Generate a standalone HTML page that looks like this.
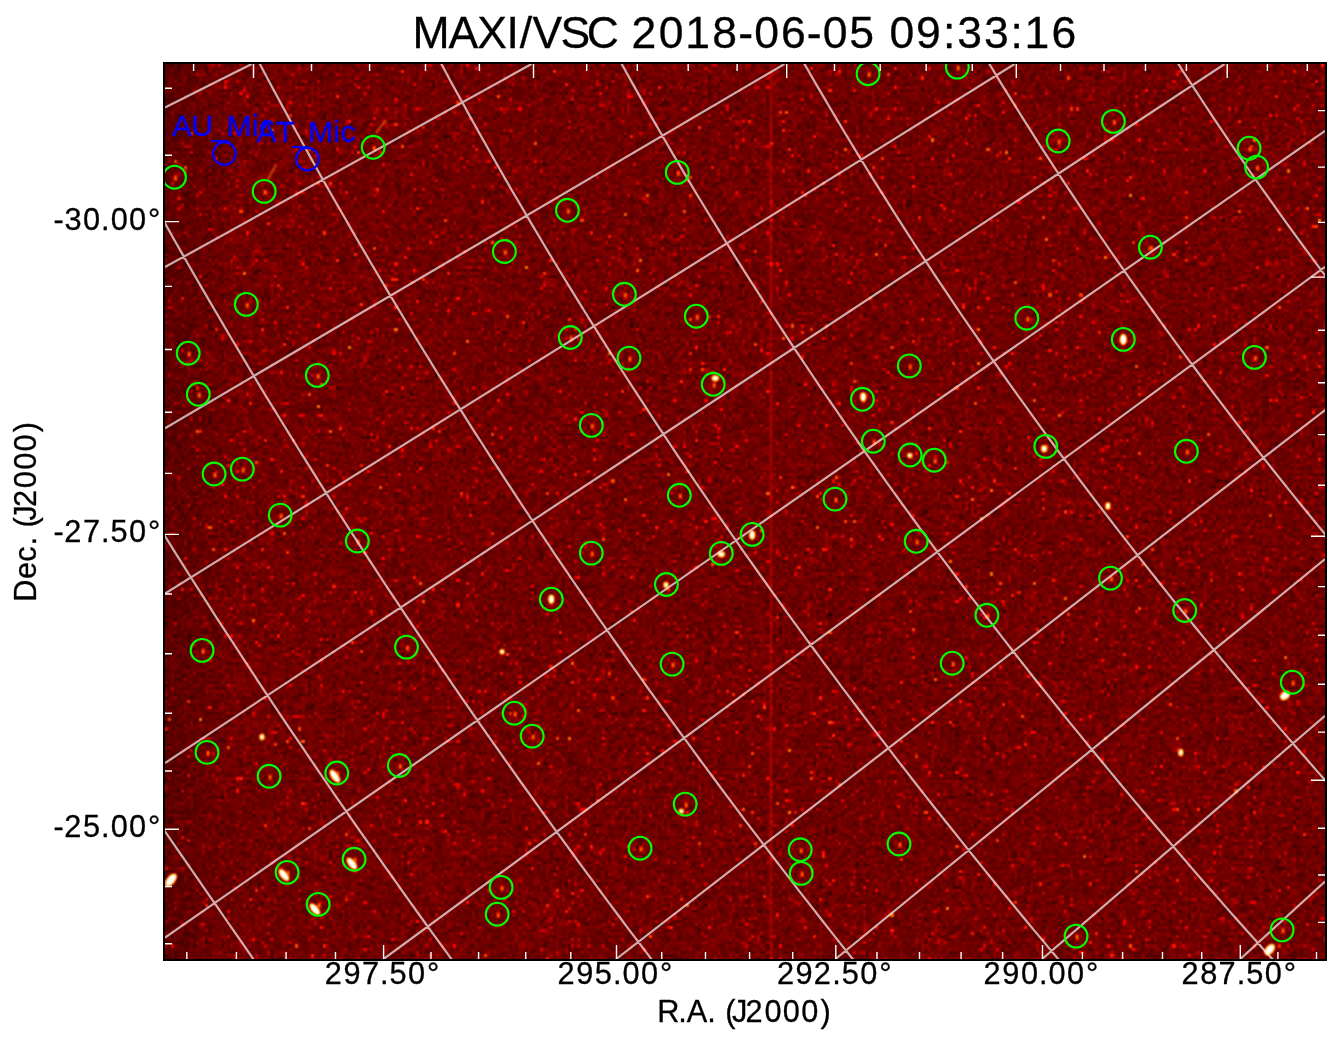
<!DOCTYPE html>
<html><head><meta charset="utf-8">
<style>
html,body{margin:0;padding:0;background:#fff;}
body{width:1341px;height:1043px;position:relative;overflow:hidden;font-family:"Liberation Sans",sans-serif;}
#plot{position:absolute;left:165px;top:64px;width:1160px;height:895px;background:#750000;}
#cv{position:absolute;left:0;top:0;width:1160px;height:895px;}
svg{position:absolute;left:0;top:0;}
</style></head><body>
<div id="plot"><canvas id="cv" width="1160" height="895"></canvas></div>
<svg width="1341" height="1043" viewBox="0 0 1341 1043">
<defs><clipPath id="cp"><rect x="165" y="64" width="1160" height="895"/></clipPath></defs>
<g clip-path="url(#cp)">
<path d="M165.0 107.4L251.7 64.0 M165.0 267.1L531.5 64.0 M165.0 428.2L784.5 64.0 M165.0 593.5L1014.6 64.0 M165.0 763.0L1224.6 64.0 M165.0 937.5L1325.0 130.9 M383.6 959.0L1325.0 266.8 M616.2 959.0L1325.0 410.0 M835.5 959.0L1325.0 559.2 M1042.1 959.0L1325.0 715.9 M1240.3 959.0L1325.0 881.5 M-386.9 34.0L-378.6 46.1L-370.2 58.2L-361.8 70.3L-353.5 82.4L-345.1 94.4L-336.7 106.5L-328.4 118.6L-320.0 130.7L-311.6 142.8L-303.3 154.9L-294.9 167.0L-286.5 179.1L-278.2 191.2L-269.8 203.2L-261.4 215.3L-253.1 227.4L-244.7 239.5L-236.3 251.6L-228.0 263.7L-219.6 275.8L-211.2 287.9L-202.9 299.9L-194.5 312.0L-186.1 324.1L-177.8 336.2L-169.4 348.3L-161.0 360.4L-152.7 372.5L-144.3 384.6L-135.9 396.7L-127.6 408.7L-119.2 420.8L-110.8 432.9L-102.5 445.0L-94.1 457.1L-85.7 469.2L-77.4 481.3L-69.0 493.4L-60.6 505.5L-52.3 517.5L-43.9 529.6L-35.5 541.7L-27.2 553.8L-18.8 565.9L-10.4 578.0L-2.1 590.1L6.3 602.2L14.7 614.3L23.0 626.3L31.4 638.4L39.8 650.5L48.1 662.6L56.5 674.7L64.9 686.8L73.2 698.9L81.6 711.0L90.0 723.1L98.3 735.1L106.7 747.2L115.1 759.3L123.4 771.4L131.8 783.5L140.2 795.6L148.5 807.7L156.9 819.8L165.3 831.8L173.6 843.9L182.0 856.0L190.4 868.1L198.7 880.2L207.1 892.3L215.5 904.4L223.8 916.5L232.2 928.6L240.6 940.6L248.9 952.7L257.3 964.8L265.7 976.9L274.0 989.0 M-116.7 34.0L-110.6 46.1L-104.6 58.2L-98.4 70.3L-92.3 82.4L-86.1 94.4L-79.9 106.5L-73.7 118.6L-67.4 130.7L-61.0 142.8L-54.7 154.9L-48.3 167.0L-41.8 179.1L-35.4 191.2L-28.9 203.2L-22.3 215.3L-15.7 227.4L-9.1 239.5L-2.4 251.6L4.3 263.7L11.0 275.8L17.8 287.9L24.6 299.9L31.4 312.0L38.3 324.1L45.2 336.2L52.2 348.3L59.1 360.4L66.2 372.5L73.2 384.6L80.3 396.7L87.5 408.7L94.6 420.8L101.9 432.9L109.1 445.0L116.4 457.1L123.7 469.2L131.1 481.3L138.5 493.4L145.9 505.5L153.4 517.5L160.9 529.6L168.4 541.7L176.0 553.8L183.6 565.9L191.3 578.0L199.0 590.1L206.7 602.2L214.4 614.3L222.2 626.3L230.1 638.4L238.0 650.5L245.9 662.6L253.8 674.7L261.8 686.8L269.8 698.9L277.9 711.0L286.0 723.1L294.1 735.1L302.3 747.2L310.5 759.3L318.7 771.4L327.0 783.5L335.3 795.6L343.7 807.7L352.1 819.8L360.5 831.8L369.0 843.9L377.5 856.0L386.0 868.1L394.6 880.2L403.2 892.3L411.8 904.4L420.5 916.5L429.2 928.6L438.0 940.6L446.8 952.7L455.6 964.8L464.5 976.9L473.4 989.0 M63.7 34.0L69.9 46.1L76.1 58.2L82.4 70.3L88.6 82.4L95.0 94.4L101.4 106.5L107.8 118.6L114.2 130.7L120.7 142.8L127.3 154.9L133.8 167.0L140.5 179.1L147.1 191.2L153.8 203.2L160.6 215.3L167.3 227.4L174.1 239.5L181.0 251.6L187.9 263.7L194.8 275.8L201.8 287.9L208.8 299.9L215.9 312.0L223.0 324.1L230.1 336.2L237.3 348.3L244.5 360.4L251.7 372.5L259.0 384.6L266.3 396.7L273.7 408.7L281.1 420.8L288.6 432.9L296.1 445.0L303.6 457.1L311.2 469.2L318.8 481.3L326.4 493.4L334.1 505.5L341.8 517.5L349.6 529.6L357.4 541.7L365.3 553.8L373.2 565.9L381.1 578.0L389.0 590.1L397.1 602.2L405.1 614.3L413.2 626.3L421.3 638.4L429.5 650.5L437.7 662.6L445.9 674.7L454.2 686.8L462.5 698.9L470.9 711.0L479.3 723.1L487.7 735.1L496.2 747.2L504.8 759.3L513.3 771.4L521.9 783.5L530.6 795.6L539.2 807.7L548.0 819.8L556.7 831.8L565.5 843.9L574.4 856.0L583.2 868.1L592.2 880.2L601.1 892.3L610.1 904.4L619.2 916.5L628.2 928.6L637.4 940.6L646.5 952.7L655.7 964.8L665.0 976.9L674.2 989.0 M244.1 34.0L250.4 46.1L256.8 58.2L263.2 70.3L269.6 82.4L276.1 94.4L282.6 106.5L289.2 118.6L295.8 130.7L302.4 142.8L309.1 154.9L315.9 167.0L322.6 179.1L329.5 191.2L336.3 203.2L343.3 215.3L350.2 227.4L357.2 239.5L364.3 251.6L371.4 263.7L378.5 275.8L385.7 287.9L392.9 299.9L400.2 312.0L407.5 324.1L414.8 336.2L422.2 348.3L429.7 360.4L437.1 372.5L444.7 384.6L452.2 396.7L459.9 408.7L467.5 420.8L475.2 432.9L483.0 445.0L490.7 457.1L498.6 469.2L506.5 481.3L514.4 493.4L522.3 505.5L530.3 517.5L538.4 529.6L546.5 541.7L554.6 553.8L562.8 565.9L571.0 578.0L579.3 590.1L587.6 602.2L596.0 614.3L604.4 626.3L612.8 638.4L621.3 650.5L629.8 662.6L638.4 674.7L647.0 686.8L655.7 698.9L664.4 711.0L673.2 723.1L682.0 735.1L690.8 747.2L699.7 759.3L708.6 771.4L717.6 783.5L726.6 795.6L735.6 807.7L744.7 819.8L753.9 831.8L763.1 843.9L772.3 856.0L781.6 868.1L790.9 880.2L800.2 892.3L809.7 904.4L819.1 916.5L828.6 928.6L838.1 940.6L847.7 952.7L857.3 964.8L867.0 976.9L876.7 989.0 M425.5 34.0L431.9 46.1L438.3 58.2L444.8 70.3L451.3 82.4L457.9 94.4L464.6 106.5L471.2 118.6L478.0 130.7L484.8 142.8L491.6 154.9L498.5 167.0L505.4 179.1L512.4 191.2L519.5 203.2L526.5 215.3L533.7 227.4L540.9 239.5L548.1 251.6L555.4 263.7L562.7 275.8L570.1 287.9L577.5 299.9L585.0 312.0L592.6 324.1L600.1 336.2L607.8 348.3L615.5 360.4L623.2 372.5L631.0 384.6L638.8 396.7L646.7 408.7L654.6 420.8L662.6 432.9L670.6 445.0L678.7 457.1L686.9 469.2L695.0 481.3L703.3 493.4L711.5 505.5L719.9 517.5L728.3 529.6L736.7 541.7L745.2 553.8L753.7 565.9L762.3 578.0L770.9 590.1L779.6 602.2L788.3 614.3L797.1 626.3L805.9 638.4L814.8 650.5L823.7 662.6L832.7 674.7L841.7 686.8L850.8 698.9L859.9 711.0L869.1 723.1L878.3 735.1L887.6 747.2L896.9 759.3L906.3 771.4L915.7 783.5L925.2 795.6L934.7 807.7L944.3 819.8L953.9 831.8L963.6 843.9L973.3 856.0L983.1 868.1L992.9 880.2L1002.8 892.3L1012.7 904.4L1022.7 916.5L1032.7 928.6L1042.8 940.6L1052.9 952.7L1063.1 964.8L1073.3 976.9L1083.6 989.0 M605.4 34.0L611.9 46.1L618.5 58.2L625.2 70.3L631.9 82.4L638.7 94.4L645.5 106.5L652.4 118.6L659.4 130.7L666.4 142.8L673.4 154.9L680.6 167.0L687.8 179.1L695.0 191.2L702.3 203.2L709.6 215.3L717.1 227.4L724.5 239.5L732.0 251.6L739.6 263.7L747.3 275.8L755.0 287.9L762.7 299.9L770.5 312.0L778.4 324.1L786.3 336.2L794.3 348.3L802.4 360.4L810.5 372.5L818.6 384.6L826.8 396.7L835.1 408.7L843.4 420.8L851.8 432.9L860.2 445.0L868.7 457.1L877.3 469.2L885.9 481.3L894.6 493.4L903.3 505.5L912.1 517.5L920.9 529.6L929.8 541.7L938.8 553.8L947.8 565.9L956.9 578.0L966.0 590.1L975.2 602.2L984.5 614.3L993.8 626.3L1003.1 638.4L1012.5 650.5L1022.0 662.6L1031.5 674.7L1041.1 686.8L1050.8 698.9L1060.5 711.0L1070.2 723.1L1080.1 735.1L1089.9 747.2L1099.9 759.3L1109.9 771.4L1119.9 783.5L1130.0 795.6L1140.2 807.7L1150.4 819.8L1160.7 831.8L1171.0 843.9L1181.4 856.0L1191.8 868.1L1202.3 880.2L1212.9 892.3L1223.5 904.4L1234.2 916.5L1244.9 928.6L1255.7 940.6L1266.6 952.7L1277.5 964.8L1288.4 976.9L1299.5 989.0 M787.5 34.0L794.3 46.1L801.1 58.2L808.1 70.3L815.0 82.4L822.1 94.4L829.2 106.5L836.4 118.6L843.6 130.7L850.9 142.8L858.2 154.9L865.7 167.0L873.1 179.1L880.7 191.2L888.3 203.2L896.0 215.3L903.7 227.4L911.5 239.5L919.4 251.6L927.3 263.7L935.3 275.8L943.4 287.9L951.5 299.9L959.6 312.0L967.9 324.1L976.2 336.2L984.6 348.3L993.0 360.4L1001.5 372.5L1010.1 384.6L1018.7 396.7L1027.4 408.7L1036.1 420.8L1044.9 432.9L1053.8 445.0L1062.7 457.1L1071.7 469.2L1080.8 481.3L1089.9 493.4L1099.1 505.5L1108.4 517.5L1117.7 529.6L1127.1 541.7L1136.5 553.8L1146.0 565.9L1155.6 578.0L1165.2 590.1L1174.9 602.2L1184.7 614.3L1194.5 626.3L1204.4 638.4L1214.4 650.5L1224.4 662.6L1234.5 674.7L1244.6 686.8L1254.8 698.9L1265.1 711.0L1275.4 723.1L1285.8 735.1L1296.2 747.2L1306.8 759.3L1317.3 771.4L1328.0 783.5L1338.7 795.6L1349.5 807.7L1360.3 819.8L1371.2 831.8L1382.2 843.9L1393.2 856.0L1404.3 868.1L1415.4 880.2L1426.6 892.3L1437.9 904.4L1449.3 916.5L1460.7 928.6L1472.1 940.6L1483.7 952.7L1495.3 964.8L1506.9 976.9L1518.6 989.0 M971.4 34.0L978.6 46.1L985.9 58.2L993.2 70.3L1000.5 82.4L1008.0 94.4L1015.5 106.5L1023.1 118.6L1030.7 130.7L1038.4 142.8L1046.2 154.9L1054.1 167.0L1062.0 179.1L1070.0 191.2L1078.0 203.2L1086.2 215.3L1094.3 227.4L1102.6 239.5L1110.9 251.6L1119.3 263.7L1127.8 275.8L1136.3 287.9L1144.9 299.9L1153.6 312.0L1162.3 324.1L1171.1 336.2L1180.0 348.3L1189.0 360.4L1198.0 372.5L1207.1 384.6L1216.2 396.7L1225.4 408.7L1234.7 420.8L1244.0 432.9L1253.5 445.0L1263.0 457.1L1272.5 469.2L1282.1 481.3L1291.8 493.4L1301.6 505.5L1311.4 517.5L1321.3 529.6L1331.3 541.7L1341.3 553.8L1351.4 565.9L1361.6 578.0L1371.8 590.1L1382.1 602.2L1392.5 614.3L1402.9 626.3L1413.4 638.4L1424.0 650.5L1434.7 662.6L1445.4 674.7L1456.2 686.8L1467.0 698.9L1477.9 711.0L1488.9 723.1L1500.0 735.1L1511.1 747.2L1522.3 759.3L1533.5 771.4L1544.9 783.5L1556.3 795.6L1567.7 807.7L1579.2 819.8L1590.8 831.8L1602.5 843.9L1614.3 856.0L1626.1 868.1L1637.9 880.2L1649.9 892.3L1661.9 904.4L1673.9 916.5L1686.1 928.6L1698.3 940.6L1710.6 952.7L1722.9 964.8L1735.4 976.9L1747.8 989.0 M1159.5 34.0L1167.0 46.1L1174.7 58.2L1182.4 70.3L1190.2 82.4L1198.1 94.4L1206.0 106.5L1214.0 118.6L1222.1 130.7L1230.3 142.8L1238.6 154.9L1246.9 167.0L1255.3 179.1L1263.8 191.2L1272.4 203.2L1281.0 215.3L1289.7 227.4L1298.5 239.5L1307.4 251.6L1316.3 263.7L1325.3 275.8L1334.4 287.9L1343.6 299.9L1352.8 312.0L1362.2 324.1L1371.6 336.2L1381.0 348.3L1390.6 360.4L1400.2 372.5L1409.9 384.6L1419.7 396.7L1429.6 408.7L1439.5 420.8L1449.5 432.9L1459.6 445.0L1469.8 457.1L1480.0 469.2L1490.3 481.3L1500.7 493.4L1511.2 505.5L1521.7 517.5L1532.3 529.6L1543.0 541.7L1553.8 553.8L1564.7 565.9L1575.6 578.0L1586.6 590.1L1597.7 602.2L1608.8 614.3L1620.1 626.3L1631.4 638.4L1642.8 650.5L1654.2 662.6L1665.8 674.7L1677.4 686.8L1689.1 698.9L1700.8 711.0L1712.7 723.1L1724.6 735.1L1736.6 747.2L1748.7 759.3L1760.8 771.4L1773.0 783.5L1785.3 795.6L1797.7 807.7L1810.2 819.8L1822.7 831.8L1835.3 843.9L1848.0 856.0L1860.7 868.1L1873.6 880.2L1886.5 892.3L1899.5 904.4L1912.5 916.5L1925.7 928.6L1938.9 940.6L1952.2 952.7L1965.6 964.8L1979.0 976.9L1992.5 989.0" fill="none" stroke="#ffffff" stroke-opacity="0.68" stroke-width="2.2"/>
<g fill="none" stroke="#00ff00" stroke-width="2.1"><circle cx="174.5" cy="177.2" r="11.4"/><circle cx="264.2" cy="191.4" r="11.4"/><circle cx="373.2" cy="147.3" r="11.4"/><circle cx="246.3" cy="304.4" r="11.4"/><circle cx="188.2" cy="353.2" r="11.4"/><circle cx="198.3" cy="394.3" r="11.4"/><circle cx="317.3" cy="375.4" r="11.4"/><circle cx="214.1" cy="474" r="11.4"/><circle cx="242.3" cy="469.1" r="11.4"/><circle cx="280.2" cy="515.1" r="11.4"/><circle cx="357.3" cy="541" r="11.4"/><circle cx="677.3" cy="172.4" r="11.4"/><circle cx="567.4" cy="210.3" r="11.4"/><circle cx="504.4" cy="251.5" r="11.4"/><circle cx="624.4" cy="294.3" r="11.4"/><circle cx="696.3" cy="316.2" r="11.4"/><circle cx="570.3" cy="337.5" r="11.4"/><circle cx="629" cy="358.1" r="11.4"/><circle cx="713.2" cy="384.3" r="11.4"/><circle cx="591.3" cy="425.4" r="11.4"/><circle cx="679.3" cy="495.3" r="11.4"/><circle cx="591.3" cy="553.1" r="11.4"/><circle cx="721.3" cy="553.4" r="11.4"/><circle cx="666.4" cy="584.5" r="11.4"/><circle cx="551.3" cy="599.2" r="11.4"/><circle cx="868.1" cy="73.7" r="11.4"/><circle cx="957.3" cy="67.1" r="11.4"/><circle cx="1058.2" cy="141" r="11.4"/><circle cx="1113.4" cy="121.4" r="11.4"/><circle cx="1249.1" cy="148.2" r="11.4"/><circle cx="1256.6" cy="167.1" r="11.4"/><circle cx="1150.4" cy="247.2" r="11.4"/><circle cx="1026.8" cy="318.2" r="11.4"/><circle cx="1123.3" cy="339.4" r="11.4"/><circle cx="1254.4" cy="357.4" r="11.4"/><circle cx="909.3" cy="365.9" r="11.4"/><circle cx="862.4" cy="399.3" r="11.4"/><circle cx="873.3" cy="441.2" r="11.4"/><circle cx="910.1" cy="455" r="11.4"/><circle cx="934.3" cy="460.2" r="11.4"/><circle cx="835" cy="499.1" r="11.4"/><circle cx="752.2" cy="534.4" r="11.4"/><circle cx="916.2" cy="541.3" r="11.4"/><circle cx="986.9" cy="615.3" r="11.4"/><circle cx="1045.8" cy="446.4" r="11.4"/><circle cx="1186.4" cy="451.3" r="11.4"/><circle cx="1110.5" cy="578.1" r="11.4"/><circle cx="1184.7" cy="610.5" r="11.4"/><circle cx="1292.3" cy="682.2" r="11.4"/><circle cx="202.1" cy="650.4" r="11.4"/><circle cx="406.5" cy="647.1" r="11.4"/><circle cx="207" cy="752.4" r="11.4"/><circle cx="269.1" cy="776.3" r="11.4"/><circle cx="336.8" cy="773" r="11.4"/><circle cx="399.3" cy="765.5" r="11.4"/><circle cx="354.1" cy="859.3" r="11.4"/><circle cx="287.1" cy="872.4" r="11.4"/><circle cx="318.2" cy="904.4" r="11.4"/><circle cx="672.1" cy="664.1" r="11.4"/><circle cx="514.2" cy="713.2" r="11.4"/><circle cx="532.2" cy="736.1" r="11.4"/><circle cx="685.2" cy="804.1" r="11.4"/><circle cx="640.1" cy="848.2" r="11.4"/><circle cx="501.1" cy="887.4" r="11.4"/><circle cx="497.2" cy="914.2" r="11.4"/><circle cx="952.2" cy="663.2" r="11.4"/><circle cx="800.2" cy="849.8" r="11.4"/><circle cx="801.2" cy="873.4" r="11.4"/><circle cx="899" cy="844" r="11.4"/><circle cx="1076.1" cy="936.1" r="11.4"/><circle cx="1282.1" cy="929.9" r="11.4"/></g>
<g fill="none" stroke="#0000ff" stroke-width="2.2"><circle cx="224.4" cy="153.5" r="11.3"/><circle cx="307.4" cy="159.1" r="11.3"/></g>
<g fill="#0000ff" stroke="#0000ff" stroke-width="0.3" font-family="Liberation Sans"><text x="171.9 191.3 211.4 226.6 252.1 259.3" y="135.9" font-size="30.20">AU_Mic</text><text x="256.6 276.0 292.7 307.9 333.3 340.6" y="141.8" font-size="30.20">AT_Mic</text></g>
<path d="M253.5 64v14M533.5 64v14M786.7 64v14M1016.3 64v14M1227.2 64v14M193.6 64v7M311.5 64v7M369.6 64v7M425.5 64v7M479.4 64v7M586.7 64v7M637.3 64v7M688.2 64v7M737.1 64v7M834.5 64v7M880.2 64v7M926.2 64v7M972.3 64v7M1060.5 64v7M1104.0 64v7M1145.5 64v7M1186.4 64v7M1267.4 64v7M1307.3 64v7M383.6 959v-14M616.5 959v-14M835.8 959v-14M1042.5 959v-14M1240.3 959v-14M186.8 959v-7M236.4 959v-7M286.1 959v-7M335.5 959v-7M431.0 959v-7M478.6 959v-7M525.7 959v-7M570.8 959v-7M661.7 959v-7M705.5 959v-7M749.6 959v-7M792.7 959v-7M877.0 959v-7M919.5 959v-7M961.1 959v-7M1002.6 959v-7M1082.4 959v-7M1122.6 959v-7M1162.5 959v-7M1201.7 959v-7M1277.9 959v-7M1316.5 959v-7M165 221.6h14M165 534.4h14M165 829.2h14M165 88.2h7M165 155.3h7M165 286.4h7M165 349.5h7M165 412.2h7M165 473.4h7M165 594.0h7M165 653.7h7M165 713.2h7M165 771.0h7M165 886.5h7M165 943.7h7M1325 277.1h-14M1325 536.3h-14M1325 780.2h-14M1325 110.6h-7M1325 167.1h-7M1325 222.4h-7M1325 330.3h-7M1325 382.8h-7M1325 434.6h-7M1325 485.3h-7M1325 586.6h-7M1325 635.2h-7M1325 684.2h-7M1325 732.1h-7M1325 828.3h-7M1325 875.0h-7M1325 922.4h-7" stroke="#fff" stroke-width="1.4" fill="none"/>
</g>
<rect x="164" y="63" width="1162" height="897" fill="none" stroke="#000" stroke-width="2"/>
<g fill="#000" stroke="#000" stroke-width="0.3" font-family="Liberation Sans"><text x="412.4 448.5 477.2 506.5 519.8 532.6 560.5 586.8 618.3 631.6 658.8 685.3 712.3 738.2 754.2 780.9 806.8 822.8 849.3 875.7 889.6 916.1 942.9 957.2 983.9 1010.5 1024.5 1051.5" y="48.0" font-size="44.50">MAXI/VSC 2018-06-05 09:33:16</text><text x="53.5 64.6 83.0 101.1 110.7 129.1 148.0" y="229.6" font-size="30.73">-30.00°</text><text x="53.5 64.2 82.9 101.1 110.6 129.1 148.0" y="542.4" font-size="30.73">-27.50°</text><text x="53.5 64.2 82.9 101.1 110.7 129.1 148.0" y="837.2" font-size="30.73">-25.00°</text><text x="324.7 343.4 361.9 380.1 389.5 408.1 427.0" y="984.0" font-size="30.73">297.50°</text><text x="557.6 576.3 594.8 613.0 622.6 641.0 659.9" y="984.0" font-size="30.73">295.00°</text><text x="776.9 795.6 813.8 832.3 841.7 860.3 879.2" y="984.0" font-size="30.73">292.50°</text><text x="983.6 1002.3 1020.9 1039.0 1048.6 1067.0 1085.9" y="984.0" font-size="30.73">290.00°</text><text x="1181.4 1200.2 1218.6 1236.8 1246.2 1264.8 1283.7" y="984.0" font-size="30.73">287.50°</text><text x="657.2 678.2 686.8 707.3 716.5 725.2 732.0 745.6 764.4 782.8 801.3 820.4" y="1021.9" font-size="30.73">R.A. (J2000)</text><text transform="translate(36 601.8) rotate(-90)" x="0.1 22.8 40.1 56.4 65.7 74.3 81.2 94.7 113.5 132.0 150.4 169.5" y="0" font-size="30.73">Dec. (J2000)</text></g>
</svg>
<script>
(function(){
var c=document.getElementById('cv');if(!c.getContext)return;var g=c.getContext('2d');
var W=1160,H=895;
var s=123456789;function rnd(){s^=s<<13;s^=s>>>17;s^=s<<5;return ((s>>>0)%1000000)/1000000;}
function gauss(){var u=rnd()||1e-6,v=rnd();return Math.sqrt(-2*Math.log(u))*Math.cos(6.2832*v);}
var cs=3.1;var NX=Math.ceil(W/cs),NY=Math.ceil(H/cs);
var sc=document.createElement('canvas');sc.width=NX;sc.height=NY;var sg=sc.getContext('2d');
var img=sg.createImageData(NX,NY);var d=img.data;
function hot(v){var r=Math.min(1,Math.max(0,v/0.365)),gg=Math.min(1,Math.max(0,(v-0.365)/0.381)),b=Math.min(1,Math.max(0,(v-0.746)/0.254));return [r*255,gg*255,b*255];}
for(var j=0;j<NY;j++)for(var i=0;i<NX;i++){var v=0.158+0.024*gauss();var r=rnd();if(r<0.003)v+=0.2+0.15*rnd();else if(r<0.015)v+=0.12+0.12*rnd();else if(r<0.07)v+=0.04+0.07*rnd();
var p=hot(v);var o=(j*NX+i)*4;d[o]=p[0];d[o+1]=p[1];d[o+2]=p[2];d[o+3]=255;}
sg.putImageData(img,0,0);
g.imageSmoothingEnabled=false;
g.drawImage(sc,0,0,NX,NY,0,0,NX*cs,NY*cs);
var lg=g.createLinearGradient(0,0,70,0);lg.addColorStop(0,'rgba(0,0,0,0.18)');lg.addColorStop(1,'rgba(0,0,0,0)');g.fillStyle=lg;g.fillRect(0,0,70,H);g.fillStyle='rgba(255,0,0,0.36)';g.fillRect(771-165-1.3,0,2.6,H);
var blobs=[[550.3, 314.3, 6, 5, 0], [386.3, 535.2, 8, 5, 90], [556.3, 490.3, 6, 5, 0], [501, 521, 5, 4, 90], [698.2, 333, 8, 5, 90], [587.2, 471, 8, 5, 90], [744.8, 391.6, 4, 4, 0], [879.1, 384.7, 6, 5, 90], [942.9, 441.9, 6, 4, 90], [958.3, 275.4, 10, 6, 90], [1120, 631.5, 10, 7, -40], [1015.8, 688.4, 6, 4, 90], [1104.7, 885.6, 12, 7, -50], [169.9, 712.3, 14, 6, 55], [186.9, 799.6, 13, 6, 52], [118.9, 811, 13, 6, 50], [149.9, 845.3, 13, 6, 50], [6, 816, 14, 7, -50], [97, 673, 5, 4, 90], [337.1, 587.7, 4, 4, 0], [516.3, 747.3, 4, 4, 0]];var srcs=[[10.5, 114.2], [100.2, 128.4], [209.2, 84.3], [82.3, 241.4], [24.2, 290.2], [34.3, 331.3], [153.3, 312.4], [50.1, 411], [78.3, 406.1], [116.2, 452.1], [193.3, 478], [513.3, 109.4], [403.4, 147.3], [340.4, 188.5], [460.4, 231.3], [532.3, 253.2], [406.3, 274.5], [465, 295.1], [549.2, 321.3], [427.3, 362.4], [515.3, 432.3], [427.3, 490.1], [557.3, 490.4], [502.4, 521.5], [387.3, 536.2], [704.1, 10.7], [793.3, 4.1], [894.2, 78], [949.4, 58.4], [1085.1, 85.2], [1092.6, 104.1], [986.4, 184.2], [862.8, 255.2], [959.3, 276.4], [1090.4, 294.4], [745.3, 302.9], [698.4, 336.3], [709.3, 378.2], [746.1, 392], [770.3, 397.2], [671, 436.1], [588.2, 471.4], [752.2, 478.3], [822.9, 552.3], [881.8, 383.4], [1022.4, 388.3], [946.5, 515.1], [1020.7, 547.5], [1128.3, 619.2], [38.1, 587.4], [242.5, 584.1], [43, 689.4], [105.1, 713.3], [172.8, 710], [235.3, 702.5], [190.1, 796.3], [123.1, 809.4], [154.2, 841.4], [508.1, 601.1], [350.2, 650.2], [368.2, 673.1], [521.2, 741.1], [476.1, 785.2], [337.1, 824.4], [333.2, 851.2], [788.2, 600.2], [636.2, 786.8], [637.2, 810.4], [735, 781], [912.1, 873.1], [1118.1, 866.9]];for(var k=0;k<srcs.length;k++){var q=srcs[k];g.fillStyle='rgb(215,20,0)';g.fillRect(q[0]-2,q[1]-3,4,6);g.fillStyle='rgb(255,110,0)';g.fillRect(q[0]-1,q[1]-1.5,2,3);}
function ell(x,y,l,w,a,col){g.save();g.translate(x,y);g.rotate(a*Math.PI/180);g.scale(l/2,w/2);g.beginPath();g.arc(0,0,1,0,6.2832);g.restore();g.fillStyle=col;g.fill();}
for(var k=0;k<blobs.length;k++){var b=blobs[k];ell(b[0],b[1],b[2]+2.5,b[3]+2.5,b[4],'rgb(240,70,0)');ell(b[0],b[1],b[2]+0.5,b[3]+0.5,b[4],'rgb(255,220,80)');ell(b[0],b[1],b[2]-1.5,b[3]-1.5,b[4],'#ffffff');}
g.strokeStyle='rgba(255,90,0,0.55)';g.lineWidth=2.6;g.beginPath();g.moveTo(376-165,133-64);g.lineTo(386-165,120-64);g.moveTo(267-165,181-64);g.lineTo(276-165,165-64);g.stroke();
var im=g.getImageData(0,0,W,H),D=im.data,T2=new Float32Array(W*H*3);
for(var y=0;y<H;y++)for(var x=0;x<W;x++){var o=(y*W+x)*4,xl=x>0?o-4:o,xr=x<W-1?o+4:o;for(var ch=0;ch<3;ch++)T2[(y*W+x)*3+ch]=(D[xl+ch]+2*D[o+ch]+D[xr+ch])/4;}
for(var y=0;y<H;y++)for(var x=0;x<W;x++){var i3=(y*W+x)*3,yu=y>0?i3-W*3:i3,yd=y<H-1?i3+W*3:i3,o=(y*W+x)*4;for(var ch=0;ch<3;ch++)D[o+ch]=(T2[yu+ch]+2*T2[i3+ch]+T2[yd+ch])/4;}
g.putImageData(im,0,0);
})();
</script>
</body></html>
